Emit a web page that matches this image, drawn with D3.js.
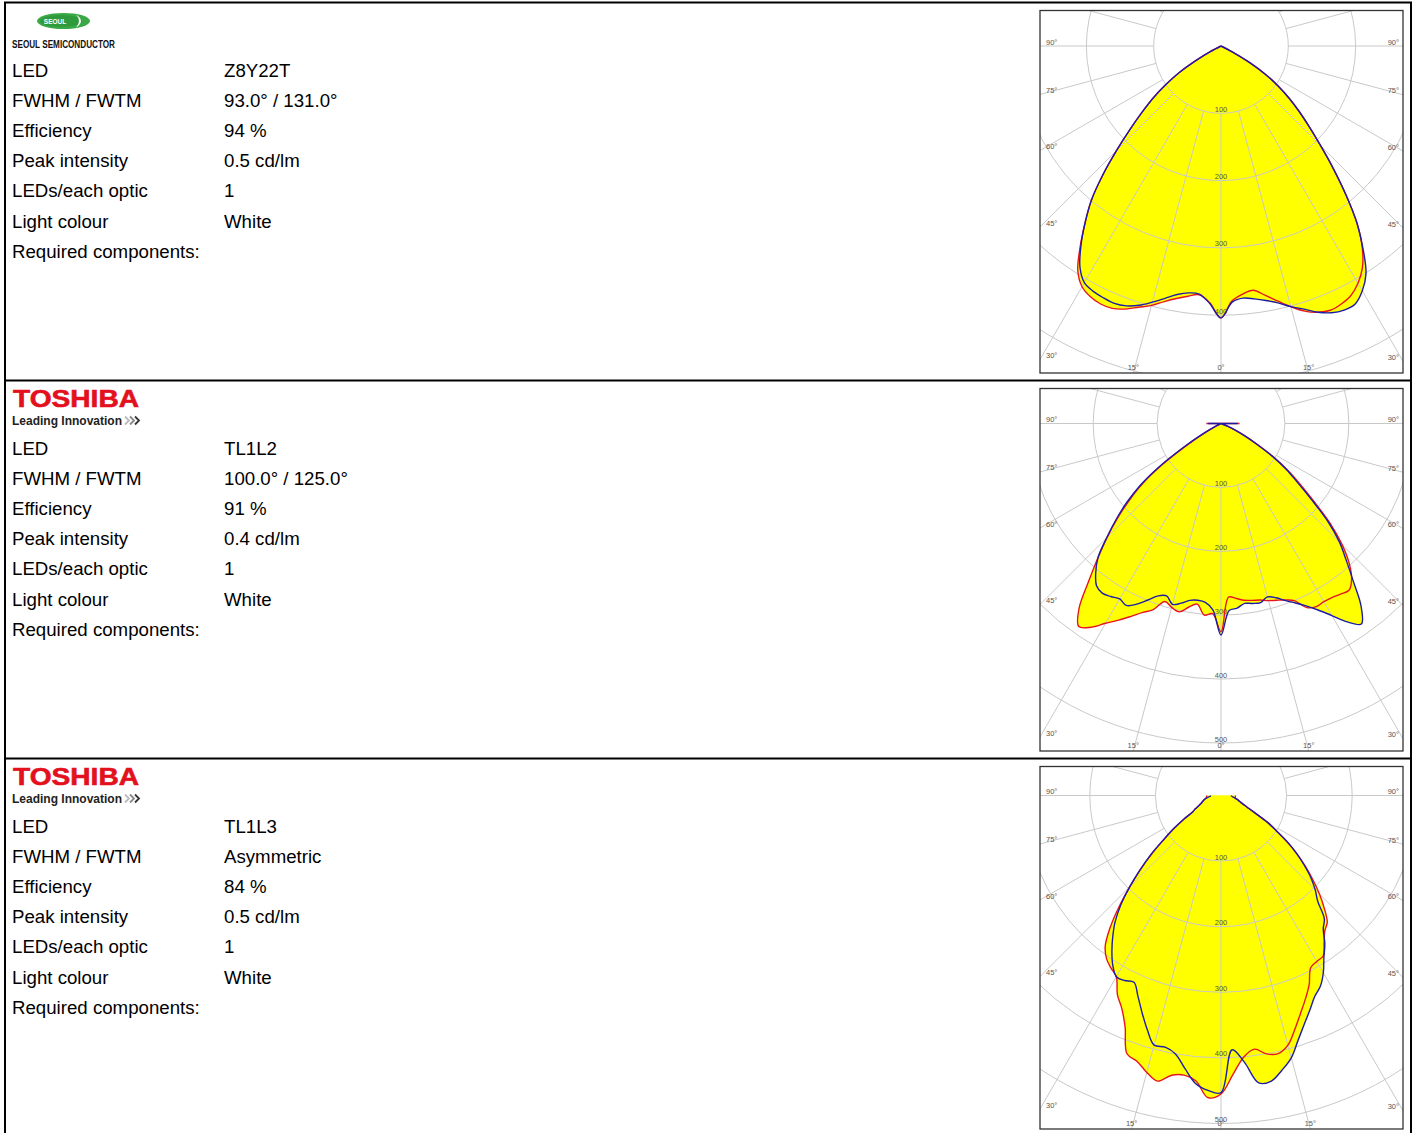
<!DOCTYPE html>
<html><head><meta charset="utf-8">
<script src="https://cdn.jsdelivr.net/npm/d3@7"></script>
<style>body{margin:0;background:#fff}svg{display:block}</style>
</head><body>
<script>
// ---------- DATA ----------
const angles = [-90,-87.5,-85,-82.5,-80,-77.5,-75,-72.5,-70,-67.5,-65,-62.5,-60,-57.5,-55,-52.5,-50,-47.5,-45,-42.5,-40,-37.5,-35,-32.5,-30,-27.5,-25,-22.5,-20,-17.5,-15,-12.5,-10,-7.5,-5,-2.5,0,2.5,5,7.5,10,12.5,15,17.5,20,22.5,25,27.5,30,32.5,35,37.5,40,42.5,45,47.5,50,52.5,55,57.5,60,62.5,65,67.5,70,72.5,75,77.5,80,82.5,85,87.5,90];

const rowLabels = ["LED","FWHM / FWTM","Efficiency","Peak intensity","LEDs/each optic","Light colour","Required components:"];
const ledNames = ["Z8Y22T","TL1L2","TL1L3"];
const fwhmValues = ["93.0° / 131.0°","100.0° / 125.0°","Asymmetric"];
const efficiencyValues = ["94 %","91 %","84 %"];
const peakValues = ["0.5 cd/lm","0.4 cd/lm","0.5 cd/lm"];
const ledsPerOptic = ["1","1","1"];
const lightColours = ["White","White","White"];
const makers = ["seoul","toshiba","toshiba"];

const circleTicks = [100,200,300,400,500,600,700];
const angleTicks = [90,75,60,45,30,15];
const radialTicks = [-165,-150,-135,-120,-105,-90,-75,-60,-45,-30,-15,0,15,30,45,60,75,90,105,120,135,150,165,180];

// Panel 1 (Z8Y22T) intensities cd/klm, blue plane and red plane
const p1Blue = [0,0,0,0,0,0,0,0,0,0,0,
 18,42,74,100,127,153,183,219,260,300,332,363,390,406,411,413,414,411,404,394,384,375,370,370,383,404,
 381,376,379,384,391,401,410,421,429,433,432,420,401,368,332,289,247,209,178,152,128,104,78,48,18,
 0,0,0,0,0,0,0,0,0,0,0];
const p1Red = [0,0,0,0,0,0,0,0,0,0,0,
 18,42,74,100,127,153,183,219,260,300,332,365,396,413,420,423,422,416,407,399,389,381,375,371,382,404,
 379,370,366,376,388,401,413,421,425,423,418,407,391,366,332,289,247,209,178,152,128,104,78,48,18,
 0,0,0,0,0,0,0,0,0,0,0];
// Panel 2 (TL1L2)
const p2Blue = [20,0,0,0,0,0,0,0,0,0,0,
 10,35,70,118,160,193,223,253,285,305,320,324,321,317,321,312,299,287,283,293,288,281,279,281,292,331,
 293,290,284,286,287,281,286,295,304,315,329,347,368,383,360,322,290,262,227,184,150,124,95,64,42,26,12,0,
 0,0,0,0,0,0,0,26];
const p2Red = [23,0,0,0,0,0,0,0,0,0,0,
 8,30,65,112,155,188,220,252,285,322,365,388,378,361,347,333,320,310,292,298,302,292,285,301,298,326,
 272,275,279,281,283,287,290,294,300,318,323,322,323,326,329,318,297,268,232,190,156,127,97,66,42,24,10,0,
 0,0,0,0,0,0,0,29];
// Panel 3 (TL1L3)
const p3Blue = [16,16,17,20,23,25,27,29,31,34,38,
 44,50,68,88,110,139,167,197,226,251,271,290,307,319,318,314,331,352,374,394,393,400,420,441,450,453,
 388,408,442,442,429,414,391,371,354,338,328,312,292,276,256,245,218,203,186,166,146,124,100,82,60,47,39,33,
 30,27,24,21,19,17,16,16];
const p3Red = [22,22,22,22,23,25,27,29,31,34,38,
 44,50,66,86,108,136,166,196,230,263,290,304,312,319,342,358,382,419,425,437,446,433,430,437,461,455,
 425,400,390,400,403,394,374,354,336,318,296,292,290,274,260,252,233,212,190,168,145,122,100,82,60,47,39,33,
 30,27,24,22,22,22,22,22];

const polarCfg = [
  {cy:46,    px100:67.3, blue:p1Blue, red:p1Red},
  {cy:423.5, px100:63.9, blue:p2Blue, red:p2Red},
  {cy:795.5, px100:65.6, blue:p3Blue, red:p3Red}
];

// ---------- DRAW ----------
const W = 1415, H = 1133;
const FONT = "'Liberation Sans', Arial, Helvetica, sans-serif";
const svg = d3.select("body").append("svg").attr("width", W).attr("height", H)
  .attr("font-family", FONT);
const defs = svg.append("defs");
const PANEL_H = 378, TOP = 3;

// table borders
const borders = svg.append("g").attr("stroke", "#000").attr("stroke-width", 2).attr("fill", "none");
borders.append("line").attr("x1", 4).attr("x2", 1412).attr("y1", 2.5).attr("y2", 2.5);
borders.append("line").attr("x1", 5).attr("x2", 5).attr("y1", 2).attr("y2", H);
borders.append("line").attr("x1", 1411).attr("x2", 1411).attr("y1", 2).attr("y2", H);
[1, 2].forEach(i => borders.append("line").attr("x1", 4).attr("x2", 1412)
  .attr("y1", TOP + PANEL_H * i - 0.5).attr("y2", TOP + PANEL_H * i - 0.5));

function seoulLogo(g, y0) {
  g.append("ellipse").attr("cx", 63.5).attr("cy", y0 + 18).attr("rx", 26.5).attr("ry", 8)
    .attr("fill", "#3aa845");
  g.append("ellipse").attr("cx", 61).attr("cy", y0 + 18).attr("rx", 21).attr("ry", 6)
    .attr("fill", "#2f9a3c");
  g.append("path")
    .attr("d", `M76,${y0+11.5} Q86,${y0+18} 76,${y0+24.5} Q82,${y0+18} 76,${y0+11.5}Z`)
    .attr("fill", "#fff");
  g.append("text").attr("x", 55).attr("y", y0 + 20.5).attr("text-anchor", "middle")
    .attr("font-size", 6.5).attr("font-weight", "bold").attr("fill", "#fff").text("SEOUL");
  g.append("text").attr("x", 12).attr("y", y0 + 44.5).attr("font-size", 11)
    .attr("font-weight", "bold").attr("fill", "#111")
    .attr("textLength", 103).attr("lengthAdjust", "spacingAndGlyphs").text("SEOUL SEMICONDUCTOR");
}
function toshibaLogo(g, y0) {
  g.append("text").attr("x", 13).attr("y", y0 + 26).attr("font-size", 24.5)
    .attr("font-weight", 900).attr("fill", "#e3101e").attr("stroke", "#e3101e").attr("stroke-width", 0.6)
    .attr("textLength", 126).attr("lengthAdjust", "spacingAndGlyphs").text("TOSHIBA");
  g.append("text").attr("x", 12).attr("y", y0 + 43.5).attr("font-size", 12)
    .attr("font-weight", "bold").attr("fill", "#222").text("Leading Innovation");
  const cols = ["#bbb", "#888", "#333"];
  cols.forEach((c, k) => {
    const x = 125 + k * 5, y = y0 + 39.5;
    g.append("path").attr("d", `M${x},${y-4} L${x+4},${y} L${x},${y+4}`)
      .attr("fill", "none").attr("stroke", c).attr("stroke-width", 1.8);
  });
}

polarCfg.forEach((cfg, i) => {
  const y0 = TOP + PANEL_H * i;
  const g = svg.append("g");
  if (makers[i] === "seoul") seoulLogo(g, y0); else toshibaLogo(g, y0);

  const values = [ledNames[i], fwhmValues[i], efficiencyValues[i], peakValues[i], ledsPerOptic[i], lightColours[i], ""];
  rowLabels.forEach((lab, k) => {
    const yy = y0 + 73.7 + 30.17 * k;
    g.append("text").attr("x", 12).attr("y", yy).attr("font-size", 18.67).attr("fill", "#000").text(lab);
    if (values[k]) g.append("text").attr("x", 224).attr("y", yy).attr("font-size", 18.67).attr("fill", "#000").text(values[k]);
  });

  // polar plot
  const box = {x0: 1040, x1: 1403, y0: 10.5 + PANEL_H * i, y1: 373 + PANEL_H * i};
  const cx = 1221, cy = cfg.cy;
  const r = d3.scaleLinear().domain([0, 100]).range([0, cfg.px100]);
  const a = d3.scaleLinear().domain([-90, 90]).range([1.5 * Math.PI, 0.5 * Math.PI]);
  const clipId = "clip" + i;
  defs.append("clipPath").attr("id", clipId).append("rect")
    .attr("x", box.x0).attr("y", box.y0).attr("width", box.x1 - box.x0).attr("height", box.y1 - box.y0);
  const pg = svg.append("g").attr("clip-path", `url(#${clipId})`);
  const gc = pg.append("g").attr("transform", `translate(${cx},${cy})`);

  const line = d3.lineRadial()
    .angle((d, j) => a(angles[j]))
    .radius(d => r(d))
    .curve(d3.curveCatmullRom.alpha(0.5));

  [cfg.red, cfg.blue].forEach(v => gc.append("path").attr("d", line(v) + "Z").attr("fill", "#ffff00"));

  // grid
  const grid = gc.append("g").attr("stroke", "#c9c9c9").attr("stroke-width", 1).attr("fill", "none");
  circleTicks.forEach(t => grid.append("circle").attr("r", r(t)));
  radialTicks.forEach(t => {
    const p1 = d3.pointRadial(a(t), r(100)), p2 = d3.pointRadial(a(t), r(1200));
    grid.append("line").attr("x1", p1[0]).attr("y1", p1[1]).attr("x2", p2[0]).attr("y2", p2[1]);
  });
  circleTicks.filter(t => cy + r(t) - 1.5 <= box.y1).forEach(t => gc.append("text").attr("x", 0).attr("y", r(t) - 1.5)
    .attr("text-anchor", "middle").attr("font-size", 7.5).attr("fill", "#555").text(t));

  gc.append("path").attr("d", line(cfg.red)).attr("fill", "none").attr("stroke", "#e8141e").attr("stroke-width", 1.4);
  gc.append("path").attr("d", line(cfg.blue)).attr("fill", "none").attr("stroke", "#1c1ca8").attr("stroke-width", 1.4);

  // angle labels
  const lab = pg.append("g").attr("font-size", 7.5).attr("fill", "#555");
  const placeLabel = (t, side) => {
    const th = side * t * Math.PI / 180;
    const sx = Math.sin(th), sy = Math.cos(th);
    const tx = Math.abs(sx) < 1e-9 ? Infinity : (sx > 0 ? (box.x1 - cx) / sx : (box.x0 - cx) / sx);
    const ty = sy < 1e-9 ? Infinity : (box.y1 - cy) / sy;
    if (tx < ty) {
      const ey = cy + tx * sy;
      lab.append("text").attr("x", sx > 0 ? box.x1 - 4 : box.x0 + 6).attr("y", ey - 1.5)
        .attr("text-anchor", sx > 0 ? "end" : "start").text(t + "°");
    } else {
      const ex = cx + ty * sx;
      lab.append("text").attr("x", ex).attr("y", box.y1 - 3).attr("text-anchor", "middle").text(t + "°");
    }
  };
  angleTicks.forEach(t => { placeLabel(t, -1); placeLabel(t, 1); });
  placeLabel(0, 1);

  svg.append("rect").attr("x", box.x0).attr("y", box.y0).attr("width", box.x1 - box.x0).attr("height", box.y1 - box.y0)
    .attr("fill", "none").attr("stroke", "#333").attr("stroke-width", 1.3);
});
</script>
</body></html>
